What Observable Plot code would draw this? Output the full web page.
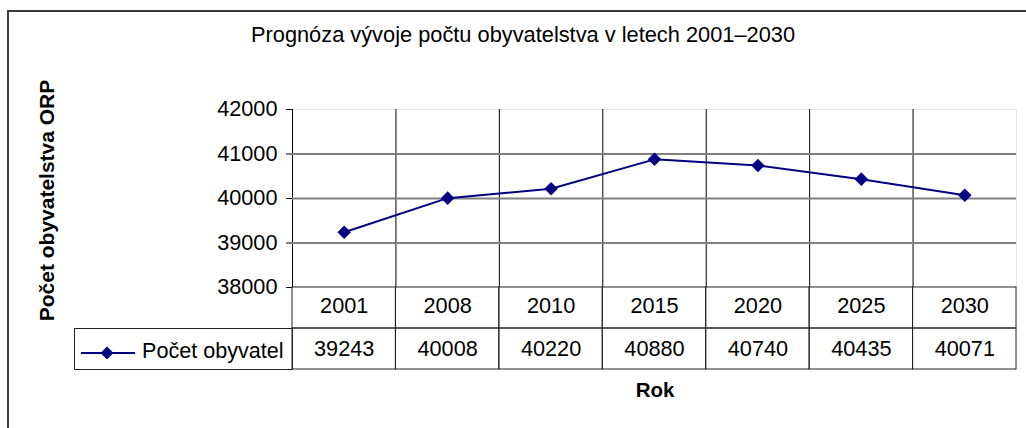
<!DOCTYPE html>
<html><head><meta charset="utf-8">
<script src="https://cdn.jsdelivr.net/npm/d3@7"></script>
<script src="https://cdn.jsdelivr.net/npm/@observablehq/plot@0.6"></script>
<style>
html,body{margin:0;padding:0;background:#fff;}
#chart{position:relative;width:1026px;height:428px;overflow:hidden;background:#fff;font-family:"Liberation Sans",Arial,sans-serif;color:#000;}
#border{position:absolute;left:7px;top:10px;width:1100px;height:600px;border:2px solid #3c3c3c;box-sizing:border-box;}
.abs{position:absolute;white-space:nowrap;}
#title{left:523px;top:24px;font-size:21.8px;line-height:22px;transform:translateX(-50%);}
#ytitle{left:-104px;top:190px;width:300px;text-align:center;font-size:21px;line-height:21px;font-weight:bold;transform:rotate(-90deg);}
#xtitle{left:655px;top:380px;font-size:20.5px;line-height:20px;font-weight:bold;transform:translateX(-50%);}
#legend{left:74px;top:328px;width:219px;height:42px;border:1px solid #222;box-sizing:border-box;}
#legend svg{position:absolute;left:5px;top:10px;}
#legend span{position:absolute;left:67px;top:11px;font-size:21.6px;line-height:21px;}
#plotA,#plotB{position:absolute;left:0;}
#plotA{top:0;}
#plotB{top:287px;}
</style></head><body>
<div id="chart">
  <div id="border"></div>
  <div id="plotA"></div>
  <div id="plotB"></div>
  <div class="abs" id="title"></div>
  <div class="abs" id="ytitle"></div>
  <div class="abs" id="xtitle"></div>
  <div class="abs" id="legend"></div>
</div>
<script>
const chartTitle = "Prognóza vývoje počtu obyvatelstva v letech 2001–2030";
const yAxisTitle = "Počet obyvatelstva ORP";
const xAxisTitle = "Rok";
const seriesName = "Počet obyvatel";
const years = ["2001", "2008", "2010", "2015", "2020", "2025", "2030"];
const population = [39243, 40008, 40220, 40880, 40740, 40435, 40071];
const yTicks = [38000, 39000, 40000, 41000, 42000];
const tableRows = ["year", "value"];

const lineColor = "#000080";
const font = "'Liberation Sans', Arial, sans-serif";
const numSize = 21.7;

const data = years.map((year, i) => ({year, pos: i + 0.5, value: population[i]}));
const bounds = d3.range(years.length + 1);
const xDomain = [0, years.length];

document.getElementById("title").textContent = chartTitle;
document.getElementById("ytitle").textContent = yAxisTitle;
document.getElementById("xtitle").textContent = xAxisTitle;

const plotA = Plot.plot({
  width: 1026,
  height: 300,
  marginLeft: 292,
  marginRight: 10,
  marginTop: 109,
  marginBottom: 13,
  style: {fontFamily: font, fontSize: numSize + "px", background: "transparent", overflow: "visible", color: "#000"},
  x: {domain: xDomain, axis: null},
  y: {domain: [yTicks[0], yTicks[yTicks.length - 1]]},
  marks: [
    Plot.ruleY([yTicks[yTicks.length - 1]], {stroke: "#e6e6e6", strokeWidth: 1}),
    Plot.ruleX([bounds[bounds.length - 1]], {stroke: "#e6e6e6", strokeWidth: 1}),
    Plot.ruleX(bounds.slice(0, -1), {stroke: "#000", strokeWidth: 1}),
    Plot.ruleY(yTicks.slice(1, -1), {stroke: "#808080", strokeWidth: 2}),
    Plot.axisY({ticks: yTicks, tickSize: 6, tickPadding: 9, tickFormat: "d", label: null, fontSize: numSize, stroke: "#000"}),
    Plot.line(data, {x: "pos", y: "value", stroke: lineColor, strokeWidth: 2}),
    Plot.dot(data, {x: "pos", y: "value", symbol: "diamond2", r: 6.1, fill: lineColor, stroke: "none"})
  ]
});
document.getElementById("plotA").append(plotA);

const cells = tableRows.flatMap(row => years.map((year, i) => ({row, x1: i, x2: i + 1})));
const plotB = Plot.plot({
  width: 1026,
  height: 82,
  marginLeft: 292,
  marginRight: 10,
  marginTop: 0,
  marginBottom: 0,
  style: {fontFamily: font, fontSize: numSize + "px", background: "transparent", overflow: "visible", color: "#000"},
  x: {domain: xDomain, axis: null},
  y: {type: "band", domain: tableRows, padding: 0, axis: null},
  marks: [
    Plot.barX(cells, {x1: "x1", x2: "x2", y: "row", fill: "none", stroke: "#222", strokeWidth: 1, inset: 0}),
    Plot.text(data, {x: "pos", y: () => tableRows[0], text: "year", fontSize: numSize, fill: "#000", dy: -2}),
    Plot.text(data, {x: "pos", y: () => tableRows[1], text: d => String(d.value), fontSize: numSize, fill: "#000", dy: 0})
  ]
});
document.getElementById("plotB").append(plotB);

// legend cell (series key)
const legend = document.getElementById("legend");
legend.innerHTML = `<svg width="60" height="20"><line x1="1" y1="14" x2="55" y2="14" stroke="${lineColor}" stroke-width="2"/><path d="M27 7.5 L33.5 14 L27 20.5 L20.5 14 Z" fill="${lineColor}"/></svg><span></span>`;
legend.querySelector("span").textContent = seriesName;
</script>
</body></html>
